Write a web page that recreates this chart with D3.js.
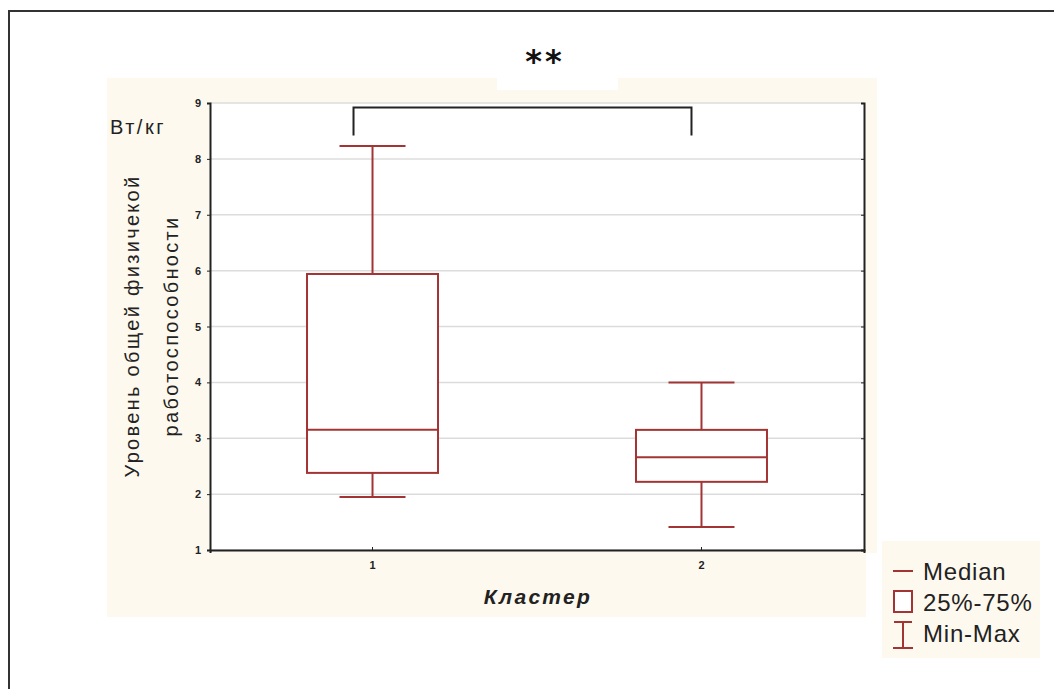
<!DOCTYPE html>
<html>
<head>
<meta charset="utf-8">
<script src="https://cdn.jsdelivr.net/npm/d3@7"></script>
<style>
  body { margin: 0; background: #fff; }
  svg { display: block; font-family: "Liberation Sans", Arial, sans-serif; }
</style>
</head>
<body>
<svg id="chart"></svg>
<script>
// data
const clusters = ['1', '2'];
const maxVals = [8.23, 4.0];
const q3Vals = [5.94, 3.15];
const medians = [3.15, 2.66];
const q1Vals = [2.38, 2.22];
const minVals = [1.95, 1.41];
const yTicks = [1, 2, 3, 4, 5, 6, 7, 8, 9];
const bracket = { from: '1', to: '2', top: 8.92, bottom: 8.42 };
const legendItems = ['Median', '25%-75%', 'Min-Max'];

const svgWidth = 1054;
const svgHeight = 689;
const margin = { top: 103, left: 210, right: 190, bottom: 139 };
const width = svgWidth - margin.left - margin.right;
const height = svgHeight - margin.top - margin.bottom;
const boxColor = '#a23434';

const svg = d3.select('#chart')
  .attr('width', svgWidth)
  .attr('height', svgHeight);

// outer frame
svg.append('path')
  .attr('d', 'M9,' + svgHeight + 'V11H' + svgWidth)
  .attr('fill', 'none')
  .attr('stroke', '#333')
  .attr('stroke-width', 2);

// cream panels
svg.append('rect')
  .attr('x', 107).attr('y', 78)
  .attr('width', 770).attr('height', 475)
  .attr('fill', '#fef9ee');
svg.append('rect')
  .attr('x', 107).attr('y', 553)
  .attr('width', 759).attr('height', 64)
  .attr('fill', '#fef9ee');
svg.append('rect')
  .attr('x', 497).attr('y', 78)
  .attr('width', 121).attr('height', 12)
  .attr('fill', '#fff');

const g = svg.append('g')
  .attr('transform', 'translate(' + margin.left + ',' + margin.top + ')');

const x = d3.scaleBand()
  .domain(clusters)
  .range([0, width])
  .paddingInner(0.6)
  .paddingOuter(0.294);
const y = d3.scaleLinear()
  .domain([1, 9])
  .range([height, 0]);

g.append('rect')
  .attr('width', width).attr('height', height)
  .attr('fill', '#fff');

// grid
g.selectAll('.grid')
  .data(yTicks)
  .enter()
  .append('line')
  .attr('x1', 0).attr('x2', width)
  .attr('y1', d => y(d)).attr('y2', d => y(d))
  .attr('stroke', '#dcdcdc')
  .attr('stroke-width', 1.5);

// axes
const yAxis = g.append('g')
  .call(d3.axisLeft(y).tickValues(yTicks).tickFormat(d3.format('d')).tickSize(3).tickPadding(6));
const xAxis = g.append('g')
  .attr('transform', 'translate(0,' + height + ')')
  .call(d3.axisBottom(x).tickSize(3).tickPadding(8));
g.append('g')
  .attr('transform', 'translate(' + width + ',0)')
  .call(d3.axisLeft(y).tickValues(yTicks).tickFormat('').tickSize(3));
[yAxis, xAxis].forEach(a => {
  a.selectAll('text').attr('fill', '#222').style('font-size', '11px').style('font-weight', 'bold');
});
g.selectAll('.domain').attr('stroke', '#222').attr('stroke-width', 2);
g.selectAll('.tick line').attr('stroke', '#222');
xAxis.selectAll('.tick line').attr('transform', 'translate(0,-3)');

// boxes
const bw = 131;
const cw = 66;
const boxes = g.selectAll('.box')
  .data(clusters)
  .enter()
  .append('g')
  .attr('transform', d => 'translate(' + (x(d) + x.bandwidth() / 2) + ',0)');

boxes.append('line')
  .attr('y1', (d, i) => y(maxVals[i])).attr('y2', (d, i) => y(q3Vals[i]))
  .attr('stroke', boxColor).attr('stroke-width', 2);
boxes.append('line')
  .attr('y1', (d, i) => y(q1Vals[i])).attr('y2', (d, i) => y(minVals[i]))
  .attr('stroke', boxColor).attr('stroke-width', 2);
boxes.append('line')
  .attr('x1', -cw / 2).attr('x2', cw / 2)
  .attr('y1', (d, i) => y(maxVals[i])).attr('y2', (d, i) => y(maxVals[i]))
  .attr('stroke', boxColor).attr('stroke-width', 2);
boxes.append('line')
  .attr('x1', -cw / 2).attr('x2', cw / 2)
  .attr('y1', (d, i) => y(minVals[i])).attr('y2', (d, i) => y(minVals[i]))
  .attr('stroke', boxColor).attr('stroke-width', 2);
boxes.append('rect')
  .attr('x', -bw / 2).attr('width', bw)
  .attr('y', (d, i) => y(q3Vals[i]))
  .attr('height', (d, i) => y(q1Vals[i]) - y(q3Vals[i]))
  .attr('fill', '#fff')
  .attr('stroke', boxColor).attr('stroke-width', 2);
boxes.append('line')
  .attr('x1', -bw / 2).attr('x2', bw / 2)
  .attr('y1', (d, i) => y(medians[i])).attr('y2', (d, i) => y(medians[i]))
  .attr('stroke', boxColor).attr('stroke-width', 2);

// significance bracket
const bx1 = x(bracket.from) + x.bandwidth() / 2 - 19;
const bx2 = x(bracket.to) + x.bandwidth() / 2 - 10;
g.append('path')
  .attr('d', 'M' + bx1 + ',' + y(bracket.bottom) + 'V' + y(bracket.top) + 'H' + bx2 + 'V' + y(bracket.bottom))
  .attr('fill', 'none')
  .attr('stroke', '#222')
  .attr('stroke-width', 2);

svg.append('text')
  .attr('x', 545).attr('y', 72)
  .attr('text-anchor', 'middle')
  .style('font-family', '"DejaVu Sans", sans-serif')
  .style('font-size', '32px')
  .style('font-weight', 'bold')
  .style('letter-spacing', '3px')
  .attr('fill', '#111')
  .text('**');

// labels
svg.append('text')
  .attr('x', 110).attr('y', 134)
  .style('font-size', '20px')
  .style('letter-spacing', '2.5px')
  .attr('fill', '#222')
  .text('Вт/кг');

const yTitle = svg.append('text')
  .attr('transform', 'translate(139,326) rotate(-90)')
  .attr('text-anchor', 'middle')
  .style('font-size', '20px')
  .style('letter-spacing', '2.3px')
  .attr('fill', '#222');
yTitle.append('tspan').attr('x', 0).attr('dy', 0).text('Уровень общей физичекой');
yTitle.append('tspan').attr('x', 0).attr('dy', 39).text('работоспособности');

svg.append('text')
  .attr('x', 538).attr('y', 604)
  .attr('text-anchor', 'middle')
  .style('font-size', '21px')
  .style('letter-spacing', '2.3px')
  .style('font-weight', 'bold')
  .style('font-style', 'italic')
  .attr('fill', '#222')
  .text('Кластер');

// legend
const lg = svg.append('g').attr('transform', 'translate(882,541)');
lg.append('rect')
  .attr('width', 158).attr('height', 117)
  .attr('fill', '#fef9ee');
const rows = lg.selectAll('.row')
  .data(legendItems)
  .enter()
  .append('g')
  .attr('transform', (d, i) => 'translate(0,' + (30 + i * 31) + ')');
rows.append('text')
  .attr('x', 41).attr('y', 9)
  .style('font-size', '24px')
  .style('letter-spacing', '0.8px')
  .attr('fill', '#222')
  .text(d => d);
rows.filter((d, i) => i === 0).append('line')
  .attr('x1', 11).attr('x2', 31)
  .attr('stroke', boxColor).attr('stroke-width', 2);
rows.filter((d, i) => i === 1).append('rect')
  .attr('x', 12).attr('y', -11).attr('width', 18).attr('height', 21)
  .attr('fill', '#fff')
  .attr('stroke', boxColor).attr('stroke-width', 2);
rows.filter((d, i) => i === 2).append('path')
  .attr('d', 'M12,-11H30M21,-11V15M11,15H31')
  .attr('fill', 'none')
  .attr('stroke', boxColor).attr('stroke-width', 2);
</script>
</body>
</html>
